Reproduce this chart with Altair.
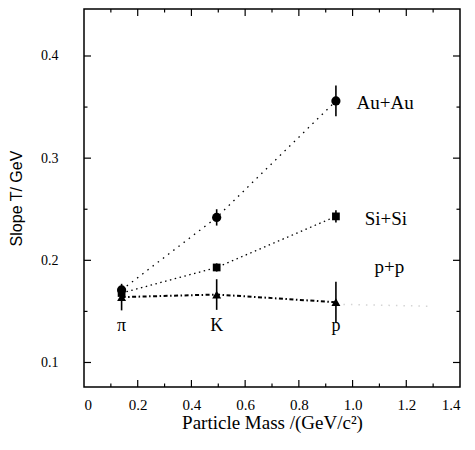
import altair as alt
import pandas as pd

# ---- data ----
mass = [0.140, 0.494, 0.938]
particles = ["π", "K", "p"]

au_T = [0.171, 0.242, 0.356]
au_err = [0.004, 0.008, 0.015]

si_T = [0.168, 0.193, 0.243]
si_err = [0.004, 0.004, 0.006]

pp_T = [0.164, 0.1665, 0.159]
pp_err = [0.013, 0.015, 0.020]

# faint extension beyond the proton point
faint_x = [0.938, 1.30]
faint_T = [0.157, 0.155]

# annotations
series_names = ["Au+Au", "Si+Si", "p+p"]
series_lab_x = [1.015, 1.045, 1.082]
series_lab_y = [0.354, 0.240, 0.193]
particle_lab_y = 0.131

x_major = [0.2, 0.4, 0.6, 0.8, 1.0, 1.2]
x_minor = [0.1, 0.3, 0.5, 0.7, 0.9, 1.1, 1.3]
y_major = [0.1, 0.2, 0.3, 0.4]
y_minor = [0.15, 0.25, 0.35]
x_labels = [0, 0.2, 0.4, 0.6, 0.8, 1.0, 1.2, 1.4]
y_labels = [0.1, 0.2, 0.3, 0.4]

W, H = 376, 378
X_DOM = [0, 1.4]
Y_DOM = [0.076, 0.446]
MAJ, MIN = 7, 3.5  # tick lengths in pixels
SERIF = "Liberation Serif, Times New Roman, serif"
SANS = "Liberation Sans, Arial, sans-serif"

x_scale = alt.Scale(domain=X_DOM, nice=False, zero=False)
y_scale = alt.Scale(domain=Y_DOM, nice=False, zero=False)
px_x = (X_DOM[1] - X_DOM[0]) / W  # data units per pixel
px_y = (Y_DOM[1] - Y_DOM[0]) / H

# one shared axis definition used by every layer
X_AXIS = alt.Axis(
    orient="bottom", values=x_labels, ticks=False, domain=False, grid=False,
    labelExpr="datum.value == 0 ? '0' : format(datum.value, '.1f')",
    labelFont=SERIF, labelFontSize=15, labelColor="black", labelPadding=10,
    title="Particle Mass /(GeV/c²)", titleFont=SERIF, titleFontSize=19,
    titleFontWeight="normal", titleColor="black", titlePadding=1)
Y_AXIS = alt.Axis(
    orient="left", values=y_labels, ticks=False, domain=False, grid=False,
    format=".1f", labelFont=SERIF, labelFontSize=14, labelColor="black",
    labelPadding=26, title="Slope T/ GeV", titleFont=SANS, titleFontSize=16,
    titleFontWeight="normal", titleColor="black", titlePadding=16)


def X(field):
    return alt.X(field, scale=x_scale, axis=X_AXIS, title="Particle Mass /(GeV/c²)")


def Y(field):
    return alt.Y(field, scale=y_scale, axis=Y_AXIS, title="Slope T/ GeV")


def make_df(vals, errs, name):
    return pd.DataFrame({
        "mass": mass,
        "T": vals,
        "lo": [v - e for v, e in zip(vals, errs)],
        "hi": [v + e for v, e in zip(vals, errs)],
        "series": name,
    })


au_df = make_df(au_T, au_err, "Au+Au")
si_df = make_df(si_T, si_err, "Si+Si")
pp_df = make_df(pp_T, pp_err, "p+p")


def series_layers(df, dash, shape, size, lw):
    line = alt.Chart(df).mark_line(color="black", strokeDash=dash, strokeWidth=lw).encode(
        x=X("mass:Q"), y=Y("T:Q"))
    err = alt.Chart(df).mark_rule(color="black", strokeWidth=1.6).encode(
        x=X("mass:Q"), y=Y("lo:Q"), y2="hi:Q")
    pts = alt.Chart(df).mark_point(filled=True, shape=shape, size=size, color="black",
                                   opacity=1).encode(x=X("mass:Q"), y=Y("T:Q"))
    return [line, err, pts]


# inward frame ticks on all four sides, drawn from the tick value lists
tick_rows = []
for vals, ln in ((x_major, MAJ), (x_minor, MIN)):
    for v in vals:
        tick_rows.append({"mass": v, "m2": v, "T": Y_DOM[0], "T2": Y_DOM[0] + ln * px_y})
        tick_rows.append({"mass": v, "m2": v, "T": Y_DOM[1], "T2": Y_DOM[1] - ln * px_y})
for vals, ln in ((y_major, MAJ), (y_minor, MIN)):
    for v in vals:
        tick_rows.append({"mass": X_DOM[0], "m2": X_DOM[0] + ln * px_x, "T": v, "T2": v})
        tick_rows.append({"mass": X_DOM[1], "m2": X_DOM[1] - ln * px_x, "T": v, "T2": v})
tick_df = pd.DataFrame(tick_rows)
ticks = alt.Chart(tick_df).mark_rule(color="black", strokeWidth=1.2).encode(
    x=X("mass:Q"), x2="m2:Q", y=Y("T:Q"), y2="T2:Q")

faint_df = pd.DataFrame({"mass": faint_x, "T": faint_T})
faint = alt.Chart(faint_df).mark_line(
    color="#d4d4d4", strokeDash=[1.5, 6], strokeWidth=1.5).encode(x=X("mass:Q"), y=Y("T:Q"))

layers = [ticks, faint]
layers += series_layers(au_df, [1.5, 5], "circle", 85, 1.3)
layers += series_layers(si_df, [1.5, 3.5], "square", 60, 1.3)
layers += series_layers(pp_df, [4, 2.5, 1.5, 2.5], "triangle-up", 80, 2.0)

part_df = pd.DataFrame({"mass": mass, "name": particles, "T": [particle_lab_y] * len(mass)})
part_text = alt.Chart(part_df).mark_text(
    font=SERIF, fontSize=18, color="black", baseline="alphabetic", align="center"
).encode(x=X("mass:Q"), y=Y("T:Q"), text="name:N")

lab_df = pd.DataFrame({"mass": series_lab_x, "T": series_lab_y, "name": series_names})
lab_text = alt.Chart(lab_df).mark_text(
    font=SERIF, fontSize=19, color="black", baseline="middle", align="left"
).encode(x=X("mass:Q"), y=Y("T:Q"), text="name:N")

layers += [part_text, lab_text]

chart = alt.layer(*layers).properties(
    width=W, height=H,
    autosize=alt.AutoSizeParams(type="none"),
    padding={"left": 76, "top": 1, "right": 7, "bottom": 55},
    background="white",
).configure_view(stroke="black", strokeWidth=1.5)

chart.save("out.html", embed_options={"renderer": "svg", "actions": False})
